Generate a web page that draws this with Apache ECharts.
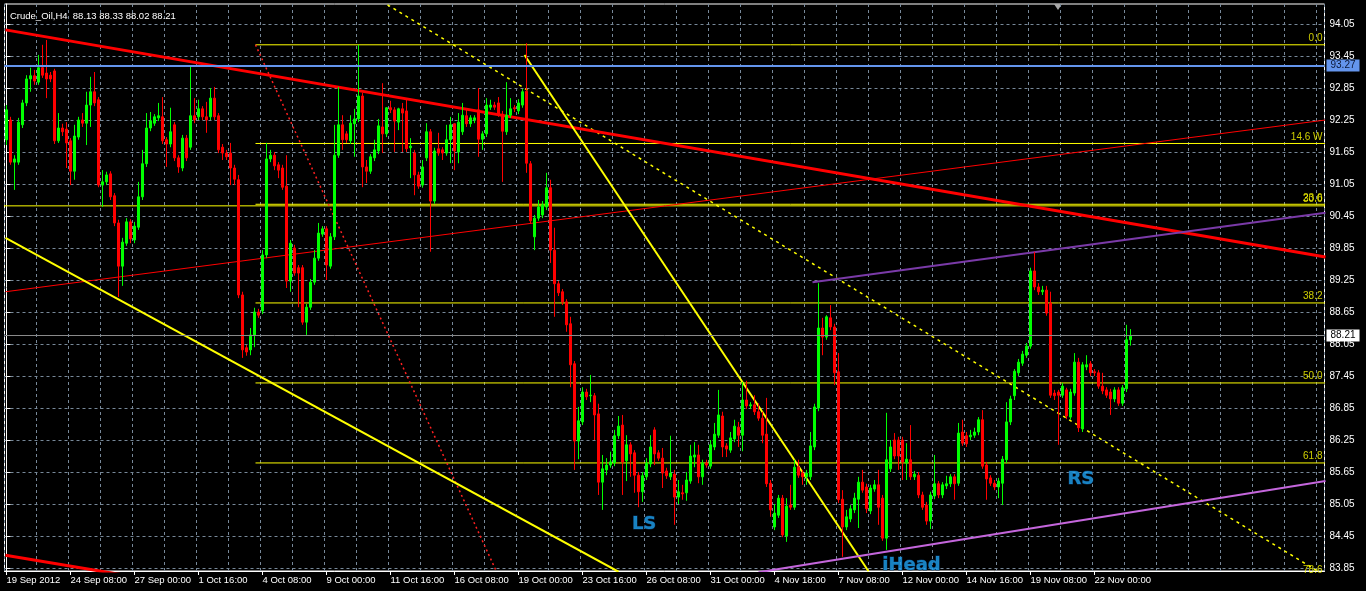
<!DOCTYPE html>
<html><head><meta charset="utf-8">
<script src="https://cdn.jsdelivr.net/npm/echarts@6/dist/echarts.min.js"></script>
<style>html,body{margin:0;padding:0;background:#000;}#c{width:1366px;height:591px;}</style>
</head><body><div id="c"></div>
<script>
const symbolName = 'Crude_Oil';
const timeframe = 'H4';
const openP = [
91.88,92.25,91.46,91.46,92.16,92.57,93.02,93.08,92.96,93.23,
93.13,93.09,93.17,91.86,92.10,92.08,91.86,91.29,91.93,92.25,
92.19,92.53,92.78,92.63,91.03,91.09,91.24,90.83,90.32,89.51,
89.94,90.34,90.00,90.24,90.81,91.43,92.10,92.19,92.29,92.31,
91.88,91.80,92.16,91.54,91.35,91.91,91.74,92.33,92.31,92.46,
92.31,92.31,92.66,92.33,91.74,91.63,91.63,91.35,91.13,88.97,
87.98,87.94,88.22,88.65,88.67,89.72,91.52,91.59,91.41,91.35,
91.01,89.23,89.85,89.48,89.48,88.46,88.74,89.21,89.66,90.11,
90.21,89.51,90.06,91.59,92.16,91.99,91.86,92.18,92.27,92.70,
91.37,91.29,91.54,91.67,92.12,91.99,92.48,92.44,92.21,92.46,
92.42,91.73,91.63,91.22,91.03,91.54,92.03,90.73,91.71,91.69,
91.63,91.88,92.18,91.65,92.03,92.33,92.18,92.25,92.44,91.89,
91.99,92.49,92.53,92.57,92.36,92.03,92.34,92.48,92.42,92.53,
92.79,91.43,90.06,90.41,90.47,90.62,90.98,89.81,89.18,89.03,
88.84,88.43,87.68,86.23,86.59,87.15,87.08,87.08,86.74,85.46,
85.69,85.78,85.82,86.33,86.53,85.86,86.16,86.01,85.59,85.28,
85.56,85.80,86.44,86.01,85.91,85.67,85.56,85.61,85.18,85.26,
85.26,85.48,85.93,85.97,85.56,85.82,85.76,86.12,86.34,86.70,
86.14,86.06,86.27,86.49,86.34,87.00,86.89,86.91,86.78,86.66,
86.36,85.44,84.62,84.84,85.16,84.45,85.03,84.99,85.74,85.63,
85.56,85.56,86.12,86.85,88.35,88.18,88.54,88.37,87.53,85.14,
84.62,84.77,84.94,85.14,85.46,85.37,84.92,85.33,85.41,85.16,
84.41,85.71,86.25,86.25,86.25,85.82,85.88,85.56,85.59,85.22,
85.03,84.73,85.20,85.43,85.22,85.39,85.43,85.56,85.44,86.40,
86.33,86.31,86.34,86.40,86.63,85.78,85.54,85.44,85.37,85.44,
85.88,86.59,87.08,87.51,87.69,87.84,88.01,89.42,89.12,89.03,
89.06,88.82,87.13,87.15,87.09,87.19,86.68,87.13,87.71,86.46,
87.62,87.68,87.53,87.51,87.26,87.19,87.15,87.02,87.19,86.94,
87.21,88.13];
const closeP = [
92.44,91.46,91.52,92.21,92.57,93.02,93.08,92.98,93.23,93.09,
93.02,93.02,91.86,92.10,92.03,91.82,91.29,91.95,92.25,92.19,
92.53,92.78,92.57,91.03,91.09,91.22,90.81,90.32,89.51,89.96,
90.34,90.02,90.26,90.81,91.43,92.10,92.23,92.31,92.33,91.86,
91.80,92.03,91.54,91.37,91.91,91.54,92.33,92.25,92.46,92.31,
92.25,92.66,92.31,91.69,91.63,91.56,91.35,91.14,88.97,87.94,
87.90,88.22,88.65,88.59,89.72,91.52,91.59,91.39,91.31,90.99,
89.23,89.94,89.38,89.38,88.46,88.74,89.21,89.66,90.13,90.21,
89.53,90.06,91.59,92.16,91.88,91.88,92.19,92.27,92.70,91.37,
91.29,91.56,91.69,92.14,91.99,92.48,92.44,92.23,92.46,92.38,
91.71,91.76,91.22,91.01,91.37,92.03,90.73,91.67,91.63,91.63,
91.88,92.16,91.67,92.21,92.34,92.18,92.29,92.29,91.89,91.99,
92.53,92.53,92.49,92.36,92.04,92.34,92.46,92.46,92.57,92.78,
91.44,90.36,90.41,90.62,90.66,90.98,89.81,89.18,89.01,88.84,
88.41,87.66,86.23,86.61,87.15,87.06,87.09,86.72,85.46,85.71,
85.78,85.84,86.33,86.51,85.84,86.16,85.99,85.59,85.28,85.58,
85.82,86.12,85.99,85.91,85.63,85.58,85.63,85.18,85.28,85.24,
85.50,85.95,85.97,85.56,85.82,85.78,86.16,86.36,86.72,86.12,
86.08,86.29,86.51,86.34,87.00,86.89,86.91,86.78,86.66,86.34,
85.43,84.94,84.88,85.16,84.47,85.01,84.99,85.74,85.59,85.56,
85.63,86.14,86.87,88.35,88.18,88.56,88.37,87.51,85.13,84.62,
84.81,84.96,85.16,85.46,85.31,84.96,85.35,85.41,84.99,84.41,
85.88,86.12,85.95,85.95,85.84,85.89,85.56,85.61,85.22,84.99,
84.73,85.22,85.43,85.22,85.41,85.43,85.56,85.43,86.38,86.19,
86.18,86.34,86.40,86.63,85.76,85.52,85.44,85.37,85.48,85.89,
86.59,87.02,87.54,87.71,87.86,88.01,89.42,89.12,89.03,89.06,
88.63,87.09,87.08,87.09,87.26,86.70,87.15,87.71,86.48,87.66,
87.66,87.51,87.51,87.26,87.17,87.09,87.02,87.19,86.94,87.23,
88.13,88.21];
const lowP = [
91.78,91.41,90.94,91.41,92.10,92.51,92.78,92.91,92.91,93.04,
92.66,92.96,91.80,91.82,91.95,91.35,91.03,91.13,91.88,92.12,
91.78,92.12,92.51,90.99,90.62,91.03,90.75,90.26,88.93,89.14,
89.89,89.94,89.94,90.19,90.75,91.37,92.04,92.14,92.23,91.80,
91.37,91.74,91.48,91.26,91.29,91.48,91.69,92.19,92.25,92.25,
92.01,92.25,92.25,91.63,91.50,91.50,91.03,91.03,88.91,87.79,
87.83,87.84,87.99,88.54,88.61,89.66,91.46,91.31,91.16,90.94,
89.10,89.03,89.33,88.74,88.41,88.22,88.69,89.16,89.61,90.06,
89.25,89.46,90.00,91.54,91.69,91.82,91.80,91.56,92.21,90.99,
91.07,91.24,91.48,91.61,91.63,91.93,92.38,91.65,92.06,91.65,
91.65,91.16,90.84,90.96,90.98,91.48,89.78,90.68,91.58,91.50,
91.58,91.44,91.31,91.44,91.97,92.12,92.12,92.19,91.56,91.69,
91.93,92.44,92.44,92.31,91.09,91.97,92.29,92.40,92.36,92.48,
91.26,90.30,89.81,90.36,90.41,90.56,89.57,88.56,88.95,88.78,
88.28,87.24,85.69,85.89,86.53,87.00,86.96,86.25,85.22,84.94,
85.59,85.73,85.76,86.27,85.22,85.48,85.56,85.26,84.99,85.09,
85.50,85.74,85.78,85.86,85.35,85.52,85.50,84.66,85.05,85.13,
85.11,85.43,85.74,85.44,85.41,85.73,85.71,86.06,86.29,85.93,
85.93,86.01,86.21,86.12,86.04,86.83,86.83,86.72,86.61,86.19,
85.37,84.81,84.56,84.79,84.43,84.34,84.94,84.94,85.54,85.41,
85.41,85.50,86.06,86.79,87.84,88.13,88.31,87.28,85.07,84.06,
84.56,84.71,84.88,84.60,85.26,84.88,84.86,85.28,84.66,84.36,
84.19,85.65,85.89,85.69,85.50,85.50,85.50,85.50,85.16,84.94,
84.66,84.58,85.14,85.16,85.16,85.33,85.37,85.13,85.39,86.14,
86.12,86.25,86.29,86.34,85.71,85.13,85.39,85.31,85.16,85.03,
85.82,86.53,87.00,87.45,87.64,87.79,87.96,89.06,88.97,88.97,
88.58,87.04,87.00,86.16,87.04,86.64,86.63,87.08,86.40,86.40,
87.56,87.45,87.45,87.21,87.11,87.04,86.72,86.96,86.89,86.89,
87.15,88.02];
const highP = [
92.53,92.31,91.59,92.29,92.63,93.09,93.23,93.19,93.47,93.66,
93.75,93.15,93.21,92.38,92.18,92.21,91.91,92.16,92.31,92.38,
92.78,93.06,93.15,92.68,91.31,91.28,91.29,90.88,90.38,90.04,
90.41,90.39,90.34,91.09,91.69,92.38,92.40,92.36,92.57,92.68,
91.93,92.48,92.21,91.59,91.97,91.97,93.26,92.66,92.63,92.51,
92.59,92.85,92.87,92.38,91.80,91.69,91.82,91.41,91.22,89.03,
88.03,88.35,88.73,88.71,89.81,91.82,91.69,91.65,91.46,91.41,
91.59,90.00,89.91,89.53,89.53,88.80,89.27,89.81,90.32,90.26,
90.26,90.13,92.16,92.87,92.34,92.04,92.34,92.46,93.66,92.76,
91.50,91.61,91.88,92.27,92.94,92.49,92.61,92.49,92.48,92.57,
92.66,91.91,91.69,91.28,91.50,92.19,92.08,91.73,92.01,91.74,
92.16,92.31,92.19,92.38,92.57,92.44,92.34,92.34,92.85,92.04,
92.66,92.63,92.59,92.68,92.42,92.96,92.66,92.53,92.64,92.83,
93.69,91.48,90.47,90.75,90.73,91.26,91.13,90.23,89.23,89.08,
88.89,88.56,87.73,86.87,87.24,87.21,87.47,87.13,86.93,85.97,
85.91,86.03,86.44,86.70,86.72,86.34,86.21,86.06,85.65,85.65,
85.91,86.34,86.49,86.06,86.10,85.73,86.33,85.69,85.50,85.41,
85.65,86.16,86.21,86.16,85.88,85.88,86.25,86.57,87.19,86.78,
86.19,86.40,86.63,86.59,87.34,87.36,86.96,87.09,86.94,86.78,
87.04,85.50,85.05,85.22,85.22,85.16,85.41,85.88,85.88,85.69,
85.69,86.40,86.93,89.19,88.54,88.59,88.78,88.43,87.88,85.31,
84.94,85.03,85.26,85.56,85.69,85.43,85.41,85.50,85.69,85.22,
86.76,86.25,86.38,86.31,86.31,86.19,86.53,85.67,85.65,85.28,
85.09,85.28,85.97,85.48,85.46,85.58,85.61,85.61,86.57,86.63,
86.40,86.44,86.48,86.68,86.81,85.84,85.59,85.50,85.54,85.95,
86.96,87.08,87.58,87.77,87.92,88.07,89.48,89.78,89.19,89.14,
89.14,89.03,87.19,87.19,87.32,87.23,87.21,87.88,87.79,87.71,
87.84,87.73,87.58,87.56,87.51,87.24,87.21,87.24,87.24,87.28,
88.41,88.33];

// time-axis labels, one every 16 bars
const timeLabels = ['19 Sep 2012','24 Sep 08:00','27 Sep 00:00','1 Oct 16:00','4 Oct 08:00','9 Oct 00:00',
  '11 Oct 16:00','16 Oct 08:00','19 Oct 00:00','23 Oct 16:00','26 Oct 08:00','31 Oct 00:00',
  '4 Nov 18:00','7 Nov 08:00','12 Nov 00:00','14 Nov 16:00','19 Nov 08:00','22 Nov 00:00'];
const labelEvery = 16;
const totalSlots = 330;   // bars + empty shift area on the right
const priceTicks = [83.85,84.45,85.05,85.65,86.25,86.85,87.45,88.05,88.65,89.25,89.85,90.45,91.05,91.65,92.25,92.85,93.45,94.05];
const priceMin = 83.794, priceMax = 94.425;

// Fibonacci levels (price) and their texts
const fibLevels = [93.66, 91.81, 90.67, 88.82, 87.32, 85.82];
const fibNames  = ['0.0', '14.6 W', '23.6', '38.2', '50.0', '61.8'];
const fibStartBar = 62.25;
const extraLabelLevels = [90.64, 83.69];
const extraLabelNames  = ['30.0', '78.6'];

// trend lines: [[bar, price], [bar, price]]
const redDown      = [[-0.25, 93.94], [329.75, 89.68]];
const redDownLow   = [[-0.25, 84.09], [30, 83.71]];
const redUpThin    = [[-0.25, 89.03], [329.75, 92.25]];
const yellowLow    = [[-0.25, 90.04], [153, 83.78]];
const yellowSteep  = [[129.5, 93.47], [215.5, 83.79]];
const yellowDotted = [[95.25, 94.41], [328.5, 83.76]];
const redDotted    = [[62.25, 93.66], [123, 83.70]];
const purpleUpper  = [[201.5, 89.21], [329.75, 90.51]];
const orchidLower  = [[188, 83.77], [329.75, 85.48]];
const yellowHoriz  = 90.64;
const bluePrice = 93.27;
const bidPrice = 88.21;

const patternNames = ['LS', 'iHead', 'RS'];
const patternPos = [[159.4, 84.66], [226.25, 83.90], [268.6, 85.52]];

const candles = openP.map((o, i) => [o, closeP[i], lowP[i], highP[i]]);
const cats = Array.from({length: totalSlots}, (_, i) => String(i));
const nBars = openP.length;
const last = nBars - 1;
const titleText = symbolName + ',' + timeframe + '  ' + [openP[last], highP[last], lowP[last], closeP[last]].map(v => v.toFixed(2)).join(' ');

const FONT = 'Liberation Sans';
function seg(pts, color, width, type) {
  return {type: 'line', xAxisIndex: 1, yAxisIndex: 0, data: pts, symbol: 'none', silent: true,
    clip: true, animation: false, z: 3, lineStyle: {color: color, width: width, type: type || 'solid'}};
}
const series = [];
series.push({
  type: 'candlestick', xAxisIndex: 0, yAxisIndex: 0, data: candles, barWidth: 3, z: 4,
  itemStyle: {color: '#00ff00', color0: '#ff0000', borderColor: '#00ff00', borderColor0: '#ff0000', borderWidth: 1},
  markLine: {
    silent: true, symbol: ['none', 'none'], animation: false,
    data: [
      {yAxis: bluePrice, lineStyle: {color: '#6495ed', width: 2, type: 'solid'},
       label: {show: true, position: 'end', distance: 2, formatter: bluePrice.toFixed(2), color: '#0c1838',
               backgroundColor: '#6495ed', padding: [1, 4], fontSize: 10, fontFamily: FONT}},
      {yAxis: bidPrice, lineStyle: {color: '#8a8a8a', width: 1, type: 'solid'},
       label: {show: true, position: 'end', distance: 2, formatter: bidPrice.toFixed(2), color: '#000',
               backgroundColor: '#ffffff', padding: [1, 4], fontSize: 10, fontFamily: FONT}}
    ]
  }
});
fibLevels.forEach(lv => series.push(seg([[fibStartBar, lv], [330, lv]], '#ffff00', 1)));
series.push(seg([[-1, yellowHoriz], [331, yellowHoriz]], '#ffff00', 1));
series.push(seg(redUpThin, '#ff0000', 1));
series.push(seg(redDotted, '#ff2020', 1.5, [2, 3]));
series.push(seg(yellowDotted, '#ffff00', 1.5, [3, 4]));
series.push(seg(redDown, '#ff0000', 3));
series.push(seg(redDownLow, '#ff0000', 3));
series.push(seg(yellowLow, '#ffff00', 2));
series.push(seg(yellowSteep, '#ffff00', 2));
series.push(seg(purpleUpper, '#7a3aa8', 2));
series.push(seg(orchidLower, '#c466dc', 2));
// fib texts
const fibTextData = fibLevels.map((lv, i) => ({value: [329, lv], name: fibNames[i]}))
  .concat(extraLabelLevels.map((lv, i) => ({value: [329, lv], name: extraLabelNames[i]})));
series.push({
  type: 'scatter', xAxisIndex: 1, yAxisIndex: 0, data: fibTextData, symbolSize: 1, clip: false, silent: true, z: 6,
  itemStyle: {color: 'rgba(0,0,0,0)'},
  label: {show: true, position: 'top', align: 'right', distance: 1, formatter: '{b}', color: '#ffff00', fontSize: 10, fontFamily: FONT}
});
series.push({
  type: 'scatter', xAxisIndex: 1, yAxisIndex: 0, symbolSize: 1, clip: false, silent: true, z: 7,
  data: patternPos.map((p, i) => ({value: p, name: patternNames[i]})),
  itemStyle: {color: 'rgba(0,0,0,0)'},
  label: {show: true, position: 'inside', formatter: '{b}', color: '#1fa3f0', fontSize: 18, fontWeight: 'bold',
          fontFamily: 'DejaVu Sans', textBorderColor: '#0b3a66', textBorderWidth: 1}
});

const chart = echarts.init(document.getElementById('c'), null, {renderer: 'canvas'});
chart.setOption({
  backgroundColor: '#000000',
  animation: false,
  title: {text: titleText, left: 5, top: 6, textStyle: {color: '#ffffff', fontSize: 9.5, fontWeight: 'normal', fontFamily: FONT}},
  grid: {left: 4.5, right: 41.5, top: 4, bottom: 20, show: true, borderColor: '#ffffff', borderWidth: 1, backgroundColor: 'transparent'},
  xAxis: [{
    type: 'category', data: cats, boundaryGap: true,
    axisLine: {show: true, lineStyle: {color: '#ffffff'}},
    axisTick: {show: true, alignWithLabel: true, length: 4, interval: (i) => i % labelEvery === 0 && i < nBars, lineStyle: {color: '#ffffff'}},
    axisLabel: {show: true, interval: (i) => i % labelEvery === 0 && i < nBars, align: 'left', margin: 4,
      color: '#ffffff', fontSize: 9.5, fontFamily: FONT,
      formatter: (v, i) => (i % labelEvery === 0 && timeLabels[i / labelEvery]) ? timeLabels[i / labelEvery] : ''},
    splitLine: {show: true, interval: 7, lineStyle: {color: '#778899', width: 1, type: [3, 3]}}
  }, {
    type: 'value', min: -0.5, max: totalSlots - 0.5, show: false, gridIndex: 0
  }],
  yAxis: {
    type: 'value', position: 'right', min: priceMin, max: priceMax, scale: true,
    axisLine: {show: true, lineStyle: {color: '#ffffff'}},
    axisTick: {show: true, length: 4, customValues: priceTicks, lineStyle: {color: '#ffffff'}},
    axisLabel: {show: true, customValues: priceTicks, margin: 5, color: '#ffffff', fontSize: 10, fontFamily: FONT,
      formatter: (v) => Number(v).toFixed(2)},
    splitLine: {show: true, lineStyle: {color: '#778899', width: 1, type: [3, 3]}}
  },
  graphic: [{type: 'polygon', shape: {points: [[1054, 4], [1062, 4], [1058, 10]]}, style: {fill: '#a8a8a8'}, silent: true}],
  series: series
});
</script>
</body></html>
